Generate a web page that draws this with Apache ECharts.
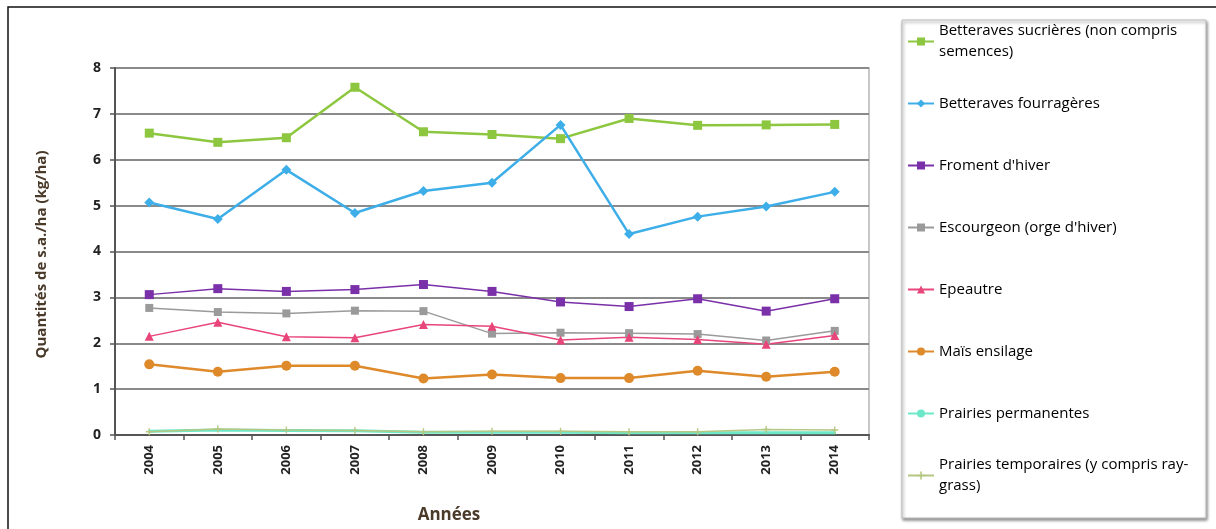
<!DOCTYPE html>
<html>
<head>
<meta charset="utf-8">
<script src="https://cdn.jsdelivr.net/npm/echarts@6/dist/echarts.min.js"></script>
<style>
    html, body {margin: 0; padding: 0; background: #fff;}
    #chart {width: 1216px; height: 529px;}
</style>
</head>
<body>
<div id="chart"></div>
<script>
var years = ['2004', '2005', '2006', '2007', '2008', '2009', '2010', '2011', '2012', '2013', '2014'];
var yTicks = [0, 1, 2, 3, 4, 5, 6, 7, 8];

var names = [
    'Betteraves sucrières (non compris semences)',
    'Betteraves fourragères',
    "Froment d'hiver",
    "Escourgeon (orge d'hiver)",
    'Epeautre',
    'Maïs ensilage',
    'Prairies permanentes',
    'Prairies temporaires (y compris ray-grass)'
];
// how the legend wraps the long labels
var legendLabels = [
    'Betteraves sucrières (non compris\nsemences)',
    'Betteraves fourragères',
    "Froment d'hiver",
    "Escourgeon (orge d'hiver)",
    'Epeautre',
    'Maïs ensilage',
    'Prairies permanentes',
    'Prairies temporaires (y compris ray-\ngrass)'
];

var betteravesSucrieres = [6.58, 6.38, 6.48, 7.58, 6.61, 6.55, 6.46, 6.90, 6.75, 6.76, 6.77];
var betteravesFourrageres = [5.07, 4.71, 5.78, 4.84, 5.32, 5.50, 6.76, 4.38, 4.76, 4.98, 5.30];
var froment = [3.06, 3.19, 3.13, 3.17, 3.28, 3.13, 2.90, 2.80, 2.97, 2.70, 2.97];
var escourgeon = [2.77, 2.68, 2.65, 2.71, 2.70, 2.21, 2.23, 2.22, 2.20, 2.06, 2.27];
var epeautre = [2.15, 2.46, 2.14, 2.12, 2.41, 2.37, 2.07, 2.13, 2.08, 1.98, 2.17];
var maisEnsilage = [1.54, 1.38, 1.51, 1.51, 1.23, 1.32, 1.24, 1.24, 1.40, 1.27, 1.38];
var prairiesPermanentes = [0.08, 0.11, 0.10, 0.09, 0.06, 0.06, 0.06, 0.05, 0.05, 0.05, 0.05];
var prairiesTemporaires = [0.07, 0.13, 0.11, 0.10, 0.07, 0.08, 0.08, 0.07, 0.07, 0.12, 0.11];

var values = [betteravesSucrieres, betteravesFourrageres, froment, escourgeon,
    epeautre, maisEnsilage, prairiesPermanentes, prairiesTemporaires];

var colors = ['#8dc63f', '#3eaee8', '#7a30a8', '#9a9a9a', '#e8457a', '#de8a2b', '#6ce8c8', '#b5c783'];
var plusSymbol = 'path://M4,0H6V4H10V6H6V10H4V6H0V4H4Z';
var symbols = ['rect', 'diamond', 'rect', 'rect', 'triangle', 'circle', 'circle', plusSymbol];
var symbolSizes = [9, 10, 9, 8, 9, 10, 3, 7];
var lineWidths = [2.5, 2.5, 1.5, 1.5, 1.5, 2.5, 3, 1.5];

var font = '"Open Sans", Lato, sans-serif';
var lineH = 21;

var series = [];
var legendData = [];
for (var i = 0; i < names.length; i++) {
    series.push({
        name: names[i],
        type: 'line',
        data: values[i],
        symbol: symbols[i],
        symbolSize: symbolSizes[i],
        showSymbol: true,
        color: colors[i],
        lineStyle: {width: lineWidths[i], color: colors[i]},
        itemStyle: {color: colors[i]}
    });
    var twoLines = legendLabels[i].indexOf('\n') >= 0;
    legendData.push({
        name: names[i],
        textStyle: {padding: twoLines ? [lineH, 0, 0, 0] : [lineH, 0, lineH, 0]}
    });
}

var option = {
    animation: false,
    textStyle: {fontFamily: font},
    graphic: [
        {
            type: 'rect',
            shape: {x: 8, y: 7, width: 1400, height: 700},
            style: {fill: 'none', stroke: '#111', lineWidth: 1.5},
            z: -1
        },
        {
            type: 'rect',
            shape: {x: 902, y: 20, width: 304, height: 498},
            style: {
                fill: '#fff', stroke: '#bbb', lineWidth: 1,
                shadowBlur: 3, shadowOffsetX: 1, shadowOffsetY: 2, shadowColor: 'rgba(0,0,0,0.45)'
            },
            z: -1
        }
    ],
    legend: {
        orient: 'vertical',
        left: 907,
        top: 10,
        padding: 0,
        itemGap: 62 - 3 * lineH,
        itemWidth: 26,
        itemHeight: 10,
        data: legendData,
        formatter: function (name) {
            return legendLabels[names.indexOf(name)];
        },
        textStyle: {
            fontFamily: font,
            fontSize: 15,
            color: '#000',
            lineHeight: lineH
        }
    },
    grid: {
        left: 115,
        right: 347,
        top: 68,
        bottom: 93,
        show: true,
        borderColor: '#c8c8c8',
        borderWidth: 2
    },
    xAxis: {
        type: 'category',
        data: years,
        boundaryGap: true,
        name: 'Années',
        nameLocation: 'middle',
        nameGap: 72,
        nameTextStyle: {
            fontFamily: font, fontSize: 17, fontWeight: 'bold', color: '#4a3a2a',
            padding: [0, 86, 0, 0]
        },
        axisLine: {lineStyle: {color: '#555', width: 2}},
        axisTick: {show: true, interval: 0, length: 5, lineStyle: {color: '#555', width: 1.5}},
        axisLabel: {
            rotate: 90, interval: 0, margin: 10,
            fontFamily: font, fontSize: 13, fontWeight: 'bold', color: '#222'
        }
    },
    yAxis: {
        type: 'value',
        min: yTicks[0],
        max: yTicks[yTicks.length - 1],
        interval: 1,
        name: 'Quantités de s.a./ha (kg/ha)',
        nameLocation: 'middle',
        nameRotate: 90,
        nameGap: 66,
        nameTextStyle: {
            fontFamily: font, fontSize: 15, fontWeight: 'bold', color: '#4a3a2a',
            padding: [0, 6, 0, 0]
        },
        axisLine: {show: true, lineStyle: {color: '#555', width: 2}},
        axisTick: {show: true, length: 5, lineStyle: {color: '#555', width: 1.5}},
        axisLabel: {margin: 14, fontFamily: font, fontSize: 14, fontWeight: 'bold', color: '#222'},
        splitLine: {lineStyle: {color: '#8a8a8a', width: 2}}
    },
    series: series
};

echarts.init(document.getElementById('chart')).setOption(option);
</script>
</body>
</html>
